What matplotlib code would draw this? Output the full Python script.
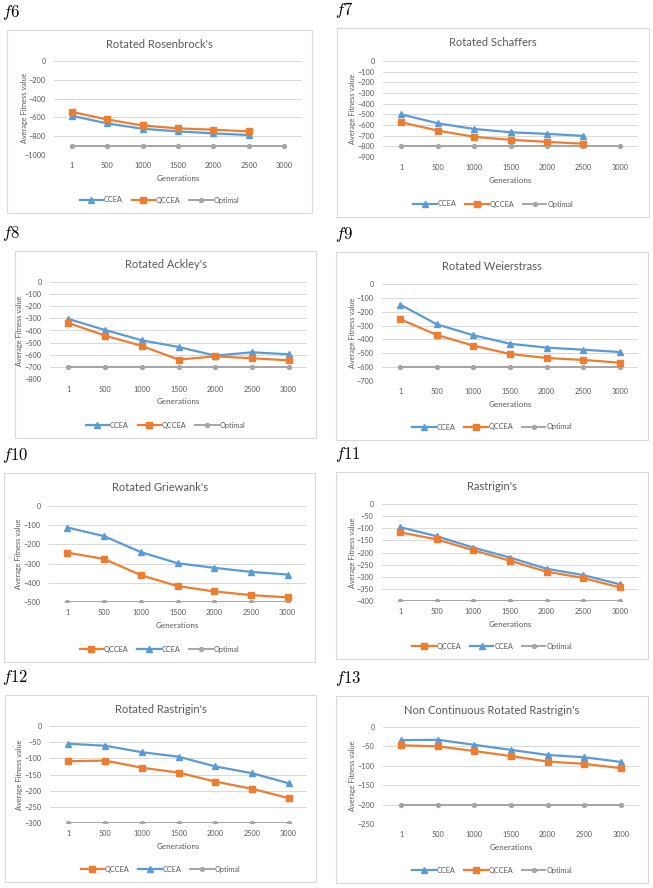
import numpy as np
import matplotlib.pyplot as plt
from matplotlib.patches import Rectangle

plt.rcParams['mathtext.fontset'] = 'cm'
plt.rcParams['font.family'] = ['Lato', 'DejaVu Sans']

# data
generations = ['1', '500', '1000', '1500', '2000', '2500', '3000']

f6_ccea = [-583, -664, -721, -749, -770, -788]
f6_qccea = [-541, -622, -686, -717, -731, -749]
f6_opt = [-900] * 7

f7_ccea = [-500, -584, -637, -668, -683, -702]
f7_qccea = [-575, -652, -711, -739, -758, -776]
f7_opt = [-800] * 7

f8_ccea = [-305, -396, -481, -536, -607, -580, -596]
f8_qccea = [-338, -442, -527, -640, -613, -629, -646]
f8_opt = [-700] * 7

f9_ccea = [-149, -291, -370, -431, -459, -474, -491]
f9_qccea = [-255, -368, -445, -505, -534, -548, -568]
f9_opt = [-600] * 7

f10_ccea = [-112, -157, -240, -298, -322, -343, -357]
f10_qccea = [-243, -276, -360, -417, -445, -464, -476]
f10_opt = [-500] * 7

f11_ccea = [-96, -133, -180, -221, -267, -293, -331]
f11_qccea = [-117, -146, -191, -234, -279, -305, -344]
f11_opt = [-400] * 7

f12_ccea = [-55, -61, -81, -95, -125, -146, -177]
f12_qccea = [-109, -107, -129, -144, -172, -194, -223]
f12_opt = [-300] * 7

f13_ccea = [-34, -33, -46, -59, -72, -78, -90]
f13_qccea = [-47, -50, -62, -75, -89, -95, -106]
f13_opt = [-200] * 7

labels = ['f6', 'f7', 'f8', 'f9', 'f10', 'f11', 'f12', 'f13']
titles = ["Rotated Rosenbrock's", 'Rotated Schaffers', "Rotated Ackley's",
          'Rotated Weierstrass', "Rotated Griewank's", "Rastrigin's",
          "Rotated Rastrigin's", "Non Continuous Rotated Rastrigin's"]
ccea = [f6_ccea, f7_ccea, f8_ccea, f9_ccea, f10_ccea, f11_ccea, f12_ccea, f13_ccea]
qccea = [f6_qccea, f7_qccea, f8_qccea, f9_qccea, f10_qccea, f11_qccea, f12_qccea, f13_qccea]
optimal = [f6_opt, f7_opt, f8_opt, f9_opt, f10_opt, f11_opt, f12_opt, f13_opt]
ymins = [-1000, -900, -800, -700, -500, -400, -300, -250]
ysteps = [200, 100, 100, 100, 100, 50, 50, 50]
# which series comes first in the legend
qccea_first = [False, False, False, False, True, True, True, False]

# layout in pixels: chart box (l, t, r, b) and plot area (l, t, r, b)
W, H = 653, 888
boxes = [(7, 30, 312, 213), (337, 28, 649, 217),
         (15, 251, 316, 438), (336, 252, 648, 440),
         (4, 473, 315, 662), (336, 472, 648, 659),
         (5, 695, 316, 882), (336, 696, 648, 883)]
areas = [(54, 61, 302, 155), (383, 61, 638, 157),
         (50, 282, 307, 379), (382, 284, 638, 381),
         (49, 506, 306, 602), (382, 504, 638, 601),
         (50, 726, 307, 823), (383, 727, 639, 824)]

blue, orange, grey = '#5B9BD5', '#ED7D31', '#A5A5A5'
txt = '#595959'
grid = '#D9D9D9'

fig = plt.figure(figsize=(W / 100, H / 100), dpi=100)


def fx(x):
    return x / W


def fy(y):
    return 1 - y / H


for i in range(8):
    bl, bt, br, bb = boxes[i]
    al, at, ar, ab = areas[i]

    # panel label and chart border
    lx = 2 if i % 2 == 0 else 335
    fig.text(fx(lx), fy(bt - 18), '$' + labels[i] + '$', fontsize=12,
             va='center', ha='left')
    fig.patches.append(Rectangle((fx(bl), fy(bb)), fx(br - bl), (bb - bt) / H,
                                 transform=fig.transFigure, fill=False,
                                 edgecolor=grid, linewidth=0.8))

    ax = fig.add_axes([fx(al), fy(ab), fx(ar - al), (ab - at) / H])
    x = np.arange(len(generations))

    hc, = ax.plot(x[:len(ccea[i])], ccea[i], '-^', color=blue, lw=1.6,
                  markersize=4.5, label='CCEA', zorder=3)
    hq, = ax.plot(x[:len(qccea[i])], qccea[i], '-s', color=orange, lw=1.6,
                  markersize=4.2, label='QCCEA', zorder=3)
    ho, = ax.plot(x, optimal[i], '-o', color=grey, lw=1.4,
                  markersize=2.8, label='Optimal', zorder=2)

    ax.set_xlim(-0.5, len(generations) - 0.5)
    ax.set_ylim(ymins[i], 0)
    ax.set_yticks(np.arange(ymins[i], 1, ysteps[i]))
    ax.set_xticks(x)
    ax.set_xticklabels(generations)
    ax.grid(axis='y', color=grid, lw=0.7)
    ax.set_axisbelow(True)
    for s in ['top', 'right', 'left', 'bottom']:
        ax.spines[s].set_visible(False)
    ax.tick_params(length=0, labelsize=5.3, colors=txt)
    ax.tick_params(axis='y', pad=6)
    ax.tick_params(axis='x', pad=5)

    # title and axis titles
    fig.text(fx((bl + br) / 2), fy(bt + 14), titles[i], fontsize=8,
             color=txt, ha='center', va='center')
    fig.text(fx((al + ar) / 2), fy(ab + 23), 'Generations', fontsize=5.8,
             color=txt, ha='center', va='center')
    fig.text(fx(al - 30), fy((at + ab) / 2), 'Average Fitness value',
             fontsize=5.3, color=txt, ha='center', va='center', rotation=90)

    handles = [hq, hc, ho] if qccea_first[i] else [hc, hq, ho]
    fig.legend(handles=handles, loc='center',
               bbox_to_anchor=(fx((bl + br) / 2), fy(bb - 13)),
               ncol=3, frameon=False, fontsize=5.3, labelcolor=txt,
               handlelength=3.2, handletextpad=0.1, columnspacing=1.2)

fig.savefig('out.png', dpi=100, facecolor='white')
